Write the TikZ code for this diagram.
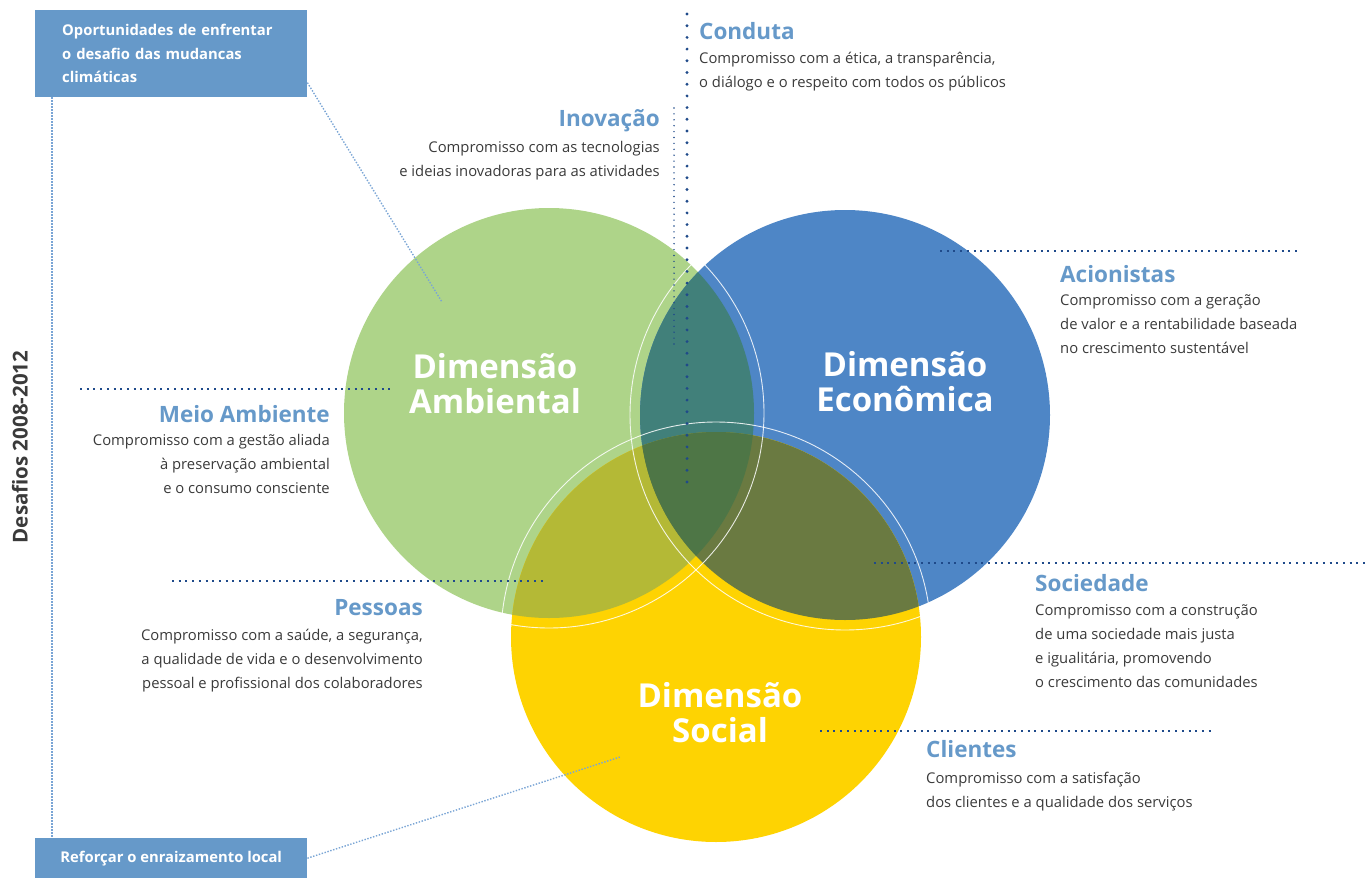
\documentclass[tikz,border=0pt]{standalone}
\usepackage{fontspec}
\setmainfont{Open Sans}
\usetikzlibrary{positioning}
\definecolor{ambgreen}{HTML}{AED489}
\definecolor{ecoblue}{HTML}{4E86C6}
\definecolor{socyellow}{HTML}{FED302}
\definecolor{ambeco}{HTML}{41807A}
\definecolor{ambsoc}{HTML}{B4B936}
\definecolor{ecosoc}{HTML}{6A7A41}
\definecolor{allthree}{HTML}{4E7646}
\definecolor{boxblue}{HTML}{6699C9}
\definecolor{headblue}{HTML}{6699C9}
\definecolor{bodygray}{HTML}{3A3A3A}
\definecolor{navy}{HTML}{1F4A8A}
\definecolor{paleblue}{HTML}{7AA5D5}
\tikzset{
  every node/.style = {inner sep=0pt},
  dim label/.style = {font=\fontsize{33}{35}\selectfont\bfseries, text=white, align=center},
  topic head/.style = {font=\fontsize{22.5}{24}\selectfont\bfseries, text=headblue},
  topic body/.style = {font=\fontsize{14.8}{24}\selectfont, text=bodygray},
  challenge/.style = {fill=boxblue, text=white, font=\fontsize{14.8}{23.5}\selectfont\bfseries,
    minimum width=272pt, align=left, anchor=north west},
  ring/.style = {draw=white, line width=0.9pt, opacity=0.85},
  big dots/.style = {draw=navy, line width=3.2pt, line cap=round, dash pattern=on 0pt off 11.7pt},
  small dots/.style = {draw=navy, line width=1.6pt, line cap=round, dash pattern=on 0pt off 5.9pt},
  leader/.style = {draw=navy, line width=2pt, dash pattern=on 2pt off 4.7pt},
  pale leader/.style = {draw=paleblue, line width=1.4pt, dash pattern=on 1.4pt off 1.6pt}
}
\def\rr{205}

\begin{document}
\begin{tikzpicture}[x=1pt, y=-1pt]
  \useasboundingbox (0,0) rectangle (1366,878);

  % Circle centres
  \coordinate (amb) at (549,413);
  \coordinate (eco) at (845,415);
  \coordinate (soc) at (716,637);

  % Circles
  \fill[ambgreen] (amb) circle[radius=\rr];
  \fill[ecoblue] (eco) circle[radius=\rr];
  \fill[socyellow] (soc) circle[radius=\rr];

  % Overlaps
  \begin{scope}
    \clip (amb) circle[radius=\rr];
    \fill[ambeco] (eco) circle[radius=\rr];
    \fill[ambsoc] (soc) circle[radius=\rr];
  \end{scope}
  \begin{scope}
    \clip (eco) circle[radius=\rr];
    \fill[ecosoc] (soc) circle[radius=\rr];
  \end{scope}
  \begin{scope}
    \clip (amb) circle[radius=\rr];
    \clip (eco) circle[radius=\rr];
    \fill[allthree] (soc) circle[radius=\rr];
  \end{scope}

  % White rings
  \foreach \c in {amb,eco,soc}
    \draw[ring] (\c) circle[radius=\rr+10];

  % Dimension labels
  \node[dim label, anchor=base] (ambLbl) at (495,413) {Dimensão\\Ambiental};
  \node[dim label, anchor=base] (ecoLbl) at (905,411) {Dimensão\\Econômica};
  \node[dim label, anchor=base] (socLbl) at (720,742) {Dimensão\\Social};

  % Leader lines
  \coordinate (condutaTop) at (687,14);
  \coordinate (condutaEnd) at (687,492);
  \coordinate (inovTop) at (674,108);
  \coordinate (inovEnd) at (674,347);
  \coordinate (acionEnd) at (940,251);
  \coordinate (acionTip) at (1297,251);
  \coordinate (meioTip) at (80,389);
  \coordinate (meioEnd) at (390,389);
  \coordinate (pessTip) at (172,581);
  \coordinate (pessEnd) at (543,581);
  \coordinate (socEnd) at (874,563);
  \coordinate (socTip) at (1366,563);
  \coordinate (cliEnd) at (820,731);
  \coordinate (cliTip) at (1212,731);
  \draw[big dots] (condutaTop) -- (condutaEnd);
  \draw[small dots] (inovTop) -- (inovEnd);
  \draw[leader] (acionEnd) -- (acionTip);
  \draw[leader] (meioTip) -- (meioEnd);
  \draw[leader] (pessTip) -- (pessEnd);
  \draw[leader] (socEnd) -- (socTip);
  \draw[leader] (cliEnd) -- (cliTip);

  % Topics
  \node[topic head, anchor=base west] (conduta) at (699,39) {Conduta};
  \node[topic body, below=7.2pt of conduta.base west, anchor=north west, align=left] (condutaTxt)
    {\strut Compromisso com a ética, a transparência,\\o diálogo e o respeito com todos os públicos};

  \node[topic head, anchor=base east] (inov) at (660,126) {Inovação};
  \node[topic body, below=9.2pt of inov.base east, anchor=north east, align=right] (inovTxt)
    {\strut Compromisso com as tecnologias\\e ideias inovadoras para as atividades};

  \node[topic head, anchor=base west] (acion) at (1060,282) {Acionistas};
  \node[topic body, below=6.2pt of acion.base west, anchor=north west, align=left] (acionTxt)
    {\strut Compromisso com a geração\\de valor e a rentabilidade baseada\\no crescimento sustentável};

  \node[topic head, anchor=base east] (meio) at (330,422) {Meio Ambiente};
  \node[topic body, below=6.2pt of meio.base east, anchor=north east, align=right] (meioTxt)
    {\strut Compromisso com a gestão aliada\\à preservação ambiental\\e o consumo consciente};

  \node[topic head, anchor=base east] (pess) at (423,615) {Pessoas};
  \node[topic body, below=8.2pt of pess.base east, anchor=north east, align=right] (pessTxt)
    {\strut Compromisso com a saúde, a segurança,\\a qualidade de vida e o desenvolvimento\\pessoal e profissional dos colaboradores};

  \node[topic head, anchor=base west] (socie) at (1035,591) {Sociedade};
  \node[topic body, below=7.2pt of socie.base west, anchor=north west, align=left] (socieTxt)
    {\strut Compromisso com a construção\\de uma sociedade mais justa\\e igualitária, promovendo\\o crescimento das comunidades};

  \node[topic head, anchor=base west] (cli) at (926,757) {Clientes};
  \node[topic body, below=9.2pt of cli.base west, anchor=north west, align=left] (cliTxt)
    {\strut Compromisso com a satisfação\\dos clientes e a qualidade dos serviços};

  % Challenges 2008-2012
  \node[challenge, minimum height=87pt, text width=218pt, inner xsep=27pt] (oport) at (35,10)
    {Oportunidades de enfrentar\\o desafio das mudancas\\climáticas};
  \node[challenge, minimum height=40pt] (reforco) at (35,838)
    {Reforçar o enraizamento local};
  \coordinate (spine) at (52,0);
  \coordinate (oportTip) at (442,302);
  \coordinate (reforcoTip) at (620,757);
  \draw[pale leader] (spine |- oport.south) -- (spine |- reforco.north);
  \draw[pale leader] (oport.-12) -- (oportTip);
  \draw[pale leader] (reforco.east) -- (reforcoTip);
  \node[rotate=90, font=\fontsize{20.5}{24}\selectfont\bfseries, text=bodygray] (desafios) at (20,447)
    {Desafios 2008-2012};
\end{tikzpicture}
\end{document}
